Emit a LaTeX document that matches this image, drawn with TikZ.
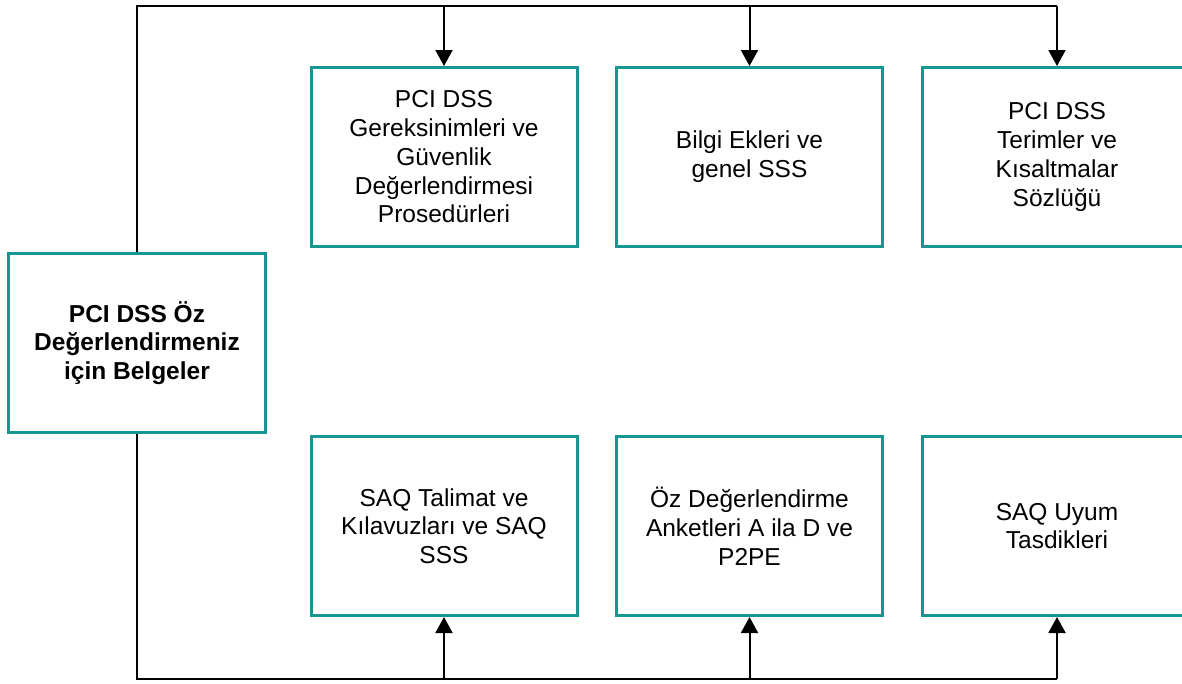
\documentclass[tikz,border=0pt]{standalone}
\usepackage{fontspec}
\setmainfont{Liberation Sans}
\usepackage{tikz}
\usetikzlibrary{arrows.meta, positioning}

\definecolor{docteal}{RGB}{22,150,145}

\tikzset{
    docbox/.style={draw=docteal, line width=3pt, fill=white, inner sep=0pt,
        minimum width=266pt, minimum height=179pt, align=center,
        font=\fontsize{24.5}{28.75}\selectfont},
    feed/.style={draw=black, line width=2pt},
    feedarrow/.style={feed, -{Triangle[width=17pt, length=16pt]}}
}

\begin{document}
\begin{tikzpicture}[x=1pt, y=-1pt]
    \useasboundingbox (0,0) rectangle (1182,683);
    % main node
    \node[docbox, minimum width=257pt, font=\fontsize{24.5}{28.5}\selectfont\bfseries] (main) at (137,343) {PCI DSS Öz\\Değerlendirmeniz\\için Belgeler};
    % upper row
    \node[docbox] (req) at (444,157) {PCI DSS\\Gereksinimleri ve\\Güvenlik\\Değerlendirmesi\\Prosedürleri};
    \node[docbox] (info) at (749.5,157) {Bilgi Ekleri ve\\genel SSS};
    \node[docbox, minimum width=270pt] (gloss) at (1057,157) {PCI DSS\\Terimler ve\\Kısaltmalar\\Sözlüğü};
    % lower row
    \node[docbox] (saqi) at (444,526) {SAQ Talimat ve\\Kılavuzları ve SAQ\\SSS};
    \node[docbox] (saq) at (749.5,526) {Öz Değerlendirme\\Anketleri A ila D ve\\P2PE};
    \node[docbox, minimum width=270pt] (aoc) at (1057,526) {SAQ Uyum\\Tasdikleri};
    % bus lines
    \coordinate (topbus) at (137,6);
    \coordinate (botbus) at (137,679);
    \draw[feed] (main.north) -- (topbus) -- (gloss.north |- topbus);
    \draw[feed] (main.south) -- (botbus) -- (aoc.south |- botbus);
    \foreach \n in {req, info, gloss} {
        \draw[feedarrow] (\n.north |- topbus) -- (\n.north);
    }
    \foreach \n in {saqi, saq, aoc} {
        \draw[feedarrow] (\n.south |- botbus) -- (\n.south);
    }
\end{tikzpicture}
\end{document}
